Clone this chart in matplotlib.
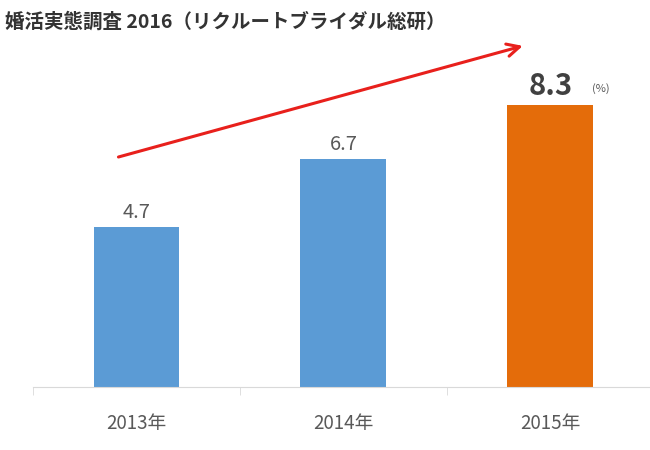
import matplotlib
matplotlib.use('Agg')
import matplotlib.pyplot as plt
from matplotlib.ticker import FixedLocator

plt.rcParams['font.family'] = ['Noto Sans CJK JP', 'DejaVu Sans']

# Data
years = ['2013年', '2014年', '2015年']
values = [4.7, 6.7, 8.3]
colors = ['#5B9BD5', '#5B9BD5', '#E46C0A']

fig = plt.figure(figsize=(6.5, 4.5), dpi=100)
ax = fig.add_axes([0.0508, 0.14, 0.955, 0.771])

x = range(len(years))
bars = ax.bar(x, values, width=0.415, color=colors, zorder=2)

ax.set_xlim(-0.5, 2.5)
ax.set_ylim(0, 10.2)

# Value labels
for i, v in enumerate(values[:-1]):
    ax.text(i, v + 0.12, f'{v}', ha='center', va='bottom', fontsize=14.5, color='#595959')
ax.text(2, values[-1] + 0.1, f'{values[-1]}', ha='center', va='bottom',
        fontsize=21, fontweight='bold', color='#404040')
ax.text(2.2, values[-1] + 0.3, '(%)', ha='left', va='bottom', fontsize=8, color='#595959')

# Spines and ticks
for s in ['top', 'right', 'left']:
    ax.spines[s].set_visible(False)
ax.spines['bottom'].set_color('#D9D9D9')
ax.set_yticks([])
ax.set_xticks(list(x))
ax.set_xticklabels(years, fontsize=13.5, color='#595959')
ax.tick_params(axis='x', which='major', length=0, pad=19)
ax.xaxis.set_minor_locator(FixedLocator([-0.5, 0.5, 1.5, 2.5]))
ax.tick_params(axis='x', which='minor', length=6, color='#D9D9D9')

# Trend arrow
ax.annotate('', xy=(1.88, 10.05), xytext=(-0.10, 6.74),
            arrowprops=dict(arrowstyle='->,head_length=0.9,head_width=0.45',
                            color='#E8201C', lw=2.2),
            annotation_clip=False)

# Title
fig.text(0.008, 0.952, '婚活実態調査 2016（リクルートブライダル総研）',
         fontsize=14, fontweight='bold', color='#333333', ha='left', va='center')

fig.savefig('out.png', dpi=100, facecolor='white')
